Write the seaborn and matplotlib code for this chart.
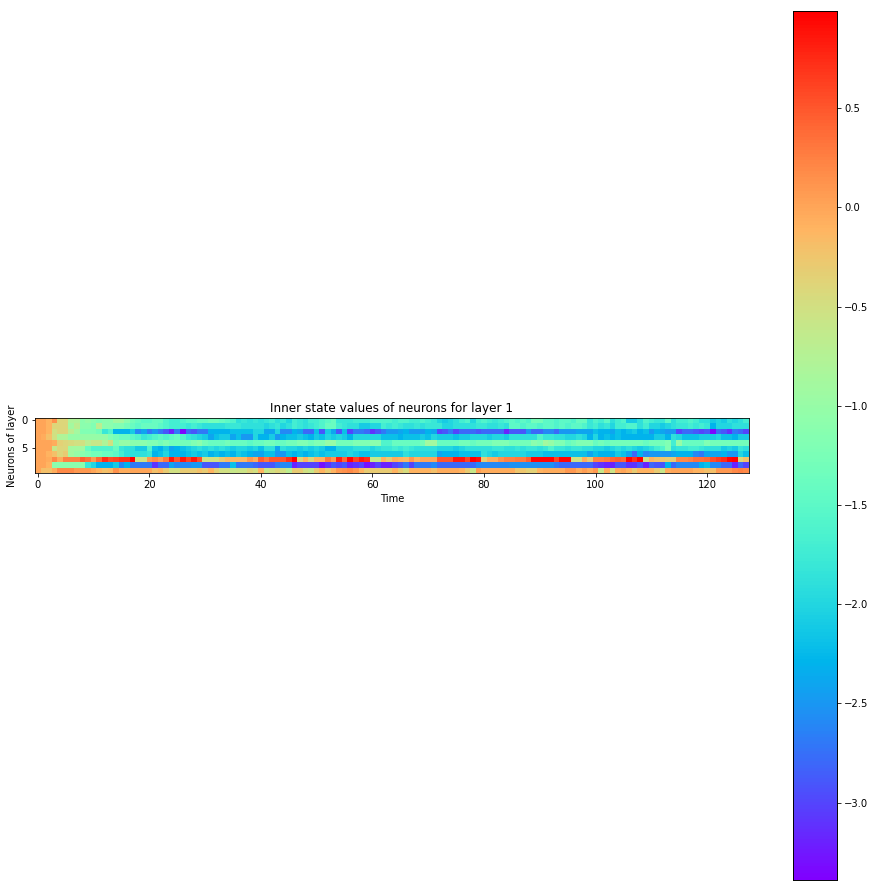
import numpy as np
import matplotlib
matplotlib.use('Agg')
import matplotlib.pyplot as plt
import seaborn as sns

# one list per neuron, 128 time steps
neuron_0 = [0,0,-.1,.15,-.4,-.4,-.8,-.8,-1.1,-1,
            -1.1,-1.2,-1.1,-1.1,-.9,-.9,-1.1,-1.3,-1.4,-1.5,
            -1.5,-1.4,-1.4,-1.6,-1.7,-1.7,-1.6,-1.5,-1.5,-1.4,
            -1.4,-1.3,-1.3,-1.4,-1.5,-1.6,-1.9,-1.8,-1.9,-1.8,
            -1.9,-1.8,-1.7,-1.9,-1.8,-2,-1.7,-1.8,-1.9,-1.7,
            -1.7,-1.6,-1.5,-1.4,-1.8,-1.8,-1.8,-1.7,-1.7,-1.7,
            -1.6,-1.6,-1.6,-1.6,-1.7,-1.6,-1.6,-1.7,-1.7,-1.6,
            -1.7,-1.8,-2,-2.1,-2,-1.9,-1.7,-1.6,-2,-1.7,
            -1.6,-1.7,-1.8,-1.7,-1.6,-1.5,-1.6,-1.5,-1.6,-1.3,
            -1.3,-1.5,-1.5,-1.6,-1.5,-1.5,-1.6,-1.4,-1.4,-1.8,
            -1.6,-1.7,-1.5,-1.9,-1.7,-1.6,-2.1,-2.1,-1.9,-1.6,
            -1.7,-1.8,-1.8,-1.5,-1.9,-1.7,-1.7,-1.6,-1.7,-1.9,
            -1.9,-2.1,-2,-2.1,-1.9,-2,-1.9,-1.7]
neuron_1 = [0,0,-.1,-.4,-.4,-.4,-.9,-.7,-1.1,-1.1,
            -1.2,-.7,-1.1,-1.1,-1.2,-1.2,-1.3,-1.4,-1.5,-1.4,
            -1.4,-1.4,-1.5,-1.6,-1.7,-1.7,-1.7,-1.8,-1.7,-1.8,
            -1.9,-1.9,-1.9,-1.9,-1.8,-1.8,-1.8,-1.9,-1.9,-1.9,
            -1.9,-2,-1.9,-1.8,-2,-1.9,-1.7,-1.8,-1.9,-1.8,
            -1.7,-1.6,-1.4,-1.4,-1.7,-1.8,-1.9,-1.9,-2.1,-2.1,
            -2,-2,-1.7,-1.8,-1.7,-1.8,-1.9,-1.9,-1.8,-1.9,
            -1.8,-1.8,-1.8,-2,-2,-1.9,-1.9,-1.9,-1.9,-1.8,
            -1.8,-1.9,-1.9,-1.8,-1.9,-1.5,-1.5,-1.6,-1.5,-1.5,
            -1.6,-1.5,-1.5,-1.6,-1.5,-1.6,-1.5,-1.5,-1.6,-1.8,
            -1.7,-1.9,-1.8,-2,-1.7,-1.7,-1.6,-1.6,-1.9,-1.7,
            -2,-2,-2.1,-2,-1.9,-1.8,-1.8,-1.7,-1.8,-1.7,
            -1.8,-2.3,-2,-2,-2,-1.9,-1.9,-1.9]
neuron_2 = [0,0,-.1,-.5,-.4,-.4,-.7,-.9,-1.2,-1.2,
            -1.2,-1.3,-1.8,-1.6,-2.3,-2.3,-2.3,-2.1,-2.6,-2.4,
            -2.7,-2.5,-2.7,-2.9,-3.2,-2.7,-3.35,-2.8,-2.9,-2.7,
            -2.7,-2.3,-2.3,-2.3,-2.3,-2.2,-2.2,-2.2,-2.2,-2,
            -2,-2.4,-2.4,-2,-2.6,-2.6,-2.3,-2.4,-2.8,-2.8,
            -2.2,-2.9,-2.1,-2.4,-2.9,-2.2,-3,-2.7,-2.7,-2.8,
            -3.1,-2.9,-2.7,-2.5,-2.5,-2.4,-2.3,-2.5,-2.5,-2.5,
            -2.3,-2.4,-3,-2.9,-2.7,-3,-2.8,-2.8,-2.8,-2.9,
            -2.8,-2.8,-2.8,-2.8,-3.2,-2.9,-2.9,-2.9,-2.5,-2.8,
            -2.8,-2.6,-2.6,-2.8,-2.5,-2.5,-2.5,-2.4,-2.4,-2.4,
            -2.2,-2.3,-2.3,-2.4,-2.2,-2.3,-2.2,-2.1,-2.3,-2.2,
            -2.5,-2.3,-2.4,-2.5,-2.5,-3,-2.8,-2.8,-2.9,-3,
            -2.9,-3.35,-2.8,-2.9,-3.1,-2.7,-2.8,-3]
neuron_3 = [0,-.05,-.2,-.5,-.8,-.8,-1,-1,-1,-1,
            -1,-1,-1,-1.2,-1.3,-1.4,-1.4,-1.5,-1.6,-1.8,
            -1.7,-1.6,-1.5,-1.6,-1.5,-1.4,-1.6,-1.8,-1.9,-2,
            -2.1,-2.4,-2.2,-2.1,-2.1,-2.4,-2.2,-2.5,-2.5,-2,
            -2.3,-2.3,-2.1,-2.5,-2.3,-2.2,-2.2,-2.1,-2.2,-2.3,
            -2.1,-2.2,-2,-2.1,-2,-2.1,-2.3,-2,-2,-2,
            -2,-2,-2.2,-2.2,-2.2,-2.3,-2.2,-2.2,-2.2,-2.1,
            -2.2,-2,-2.1,-2.1,-2.1,-2.2,-2.1,-2.1,-2,-2,
            -2,-2.1,-2,-2,-2.1,-1.9,-1.9,-1.9,-1.9,-1.9,
            -1.6,-1.8,-1.8,-1.9,-1.9,-2,-2,-1.9,-2,-2.3,
            -2,-2.3,-2.2,-2.3,-2.2,-2.3,-2.3,-2.3,-2.3,-2.3,
            -2.3,-2.1,-2.1,-2.3,-1.9,-2,-2.2,-2.2,-2.2,-2.1,
            -2.1,-2.1,-2,-2.2,-2.2,-2.3,-2.1,-2.1]
neuron_4 = [0,0,0,-.05,-.35,-.4,-.45,-.5,-.5,-.7,
            -.6,-.6,-.8,-.5,-1.2,-1,-1,-1.1,-1.1,-1.1,
            -1.2,-1.2,-1.3,-1.2,-1.3,-1.3,-1.3,-1.3,-1.2,-1.1,
            -1.3,-1.4,-1.4,-1.4,-1.3,-1.4,-1.4,-1.4,-1.5,-1.4,
            -1.4,-1.3,-1.3,-1.4,-1.4,-1.3,-1.3,-1.2,-1.2,-1.3,
            -1.2,-1.2,-1,-1,-1.3,-1.3,-1.3,-1.2,-1.2,-1.2,
            -1.1,-1.1,-1.6,-1.6,-1.4,-1.4,-1.4,-1.4,-1.4,-1.3,
            -.9,-.9,-1.4,-1.4,-1.4,-1.4,-1.3,-1.3,-1.4,-1.3,
            -1.3,-1.3,-1.2,-1.2,-1.2,-1.3,-1.3,-1.3,-1.3,-1.1,
            -1.2,-.9,-1,-1.2,-1.2,-1.4,-1.3,-1.2,-1.2,-1.2,
            -1.4,-1.3,-1.4,-1.3,-1.3,-1.3,-1.3,-1.3,-1.3,-1.4,
            -1.3,-1.3,-1.3,-1.2,-1.7,-1,-1.4,-1.4,-1.4,-1.4,
            -1.2,-1.3,-1.3,-1.3,-1.3,-1.3,-1.3,-1.3]
neuron_5 = [0,0,0,-.6,-.4,-.4,-.9,-.9,-.9,-1.4,
            -1.6,-1.6,-1.6,-1.6,-1.4,-1.8,-1.9,-1.9,-2.1,-2.1,
            -1.6,-2.2,-2.3,-2.1,-2.4,-2.3,-2.2,-2.1,-2,-1.9,
            -2,-1.9,-2,-1.9,-2,-2.1,-2,-2,-2.1,-2,
            -2.2,-1.9,-1.9,-2.4,-1.9,-2,-2,-2.1,-2,-2.1,
            -2,-2.1,-2.3,-2.3,-2,-2,-2,-1.9,-1.9,-1.9,
            -2,-1.9,-1.8,-1.8,-1.7,-1.8,-1.7,-1.8,-1.9,-1.9,
            -1.9,-1.9,-2,-2,-2,-2.1,-2,-1.9,-1.9,-1.9,
            -1.9,-1.9,-1.8,-1.8,-1.9,-1.9,-1.8,-1.9,-1.8,-1.8,
            -1.9,-1.8,-1.6,-1.8,-1.8,-1.9,-1.8,-1.8,-1.9,-1.9,
            -2,-2,-2.1,-2,-1.9,-2,-1.9,-2,-2.1,-2,
            -1.9,-1.7,-1.6,-1.2,-1.9,-1.8,-1.8,-1.7,-1.7,-1.8,
            -1.9,-1.9,-1.9,-2.1,-2,-2.1,-1.8,-1.9]
neuron_6 = [0,0,-.1,-.2,-.4,-.3,-.9,-1,-1.1,-1.2,
            -1.3,-1.3,-1.4,-1.4,-1.5,-1.7,-1.9,-1.9,-1.9,-1.9,
            -1.8,-2.3,-2.2,-2,-2.3,-2.3,-2.3,-2.2,-2.1,-2.2,
            -2.1,-2.3,-2.2,-2.3,-2.2,-2.3,-2.1,-2.2,-2.3,-2.4,
            -2.4,-2.2,-2.2,-2.5,-2.5,-2.2,-2.3,-2.2,-2.3,-2.2,
            -2.1,-2.2,-2.1,-2.1,-2.1,-2.1,-2,-2.1,-2.2,-2.2,
            -2.1,-2.1,-2.1,-2.1,-2.1,-2.1,-1.9,-2,-2,-2,
            -2,-2,-2.4,-2.3,-2.3,-2.3,-2.2,-2.2,-2.2,-2.2,
            -1.9,-2,-2.1,-2,-2,-2,-2,-2,-2.1,-2.1,
            -2.1,-2.2,-2.2,-2.2,-2.2,-2.2,-2.2,-2.2,-2.2,-2.4,
            -2.2,-2.3,-2.3,-2.3,-2.1,-2.2,-2.4,-2.8,-2.3,-2.6,
            -2.5,-2.5,-2.5,-2.5,-2.4,-2.3,-2.3,-2.3,-2.6,-2.7,
            -2.4,-2.4,-2.4,-2.3,-2.5,-2.5,-2,-2.2]
neuron_7 = [0,0,-.05,.2,-.05,.25,.25,.25,.45,.35,
            .1,.4,.75,.55,.6,.7,.7,.98,-.5,-.5,
            .1,.2,.05,.3,.85,.5,.85,.6,.85,.55,
            -.5,-.5,-.5,-.3,-.15,-.15,-.15,-.15,.1,-.05,
            .45,.3,.5,.5,.5,.7,.98,-.4,-.1,-.4,
            -.1,-.1,.3,.1,.8,.4,.95,.6,.85,.75,
            -.6,-.6,-.1,-.3,-.05,-.1,-.15,.1,-.1,0,
            0,0,.5,.5,.5,.85,.85,.6,.98,.9,
            -.3,-.05,-.05,.15,.25,.25,.3,.3,.45,.95,
            .95,.95,.95,.6,.95,.95,-.5,-.5,-.05,-.3,
            .25,.25,.3,.4,.45,.4,.95,.7,.98,-.5,
            -.1,-.2,-.25,-.3,-.3,.2,.2,.25,.35,.35,
            .4,.55,.65,.75,.95,.98,-.4,-.2]
neuron_8 = [0,0,-.1,-1.1,-1.1,-1.1,-1.1,-1.1,-1.1,-1.8,
            -2,-2.3,-2.3,-2.3,-2.1,-2.6,-2.3,-2.7,-2.7,-2.7,
            -2.7,-3.1,-2.8,-2.8,-2.4,-2.6,-2.6,-2.6,-2.5,-2.5,
            -2.9,-2.9,-2.9,-2.7,-2.7,-2.2,-2.7,-2.7,-2.7,-2.8,
            -2.9,-2.9,-2.9,-2.7,-2.6,-2.6,-3.2,-3,-3,-3,
            -3,-3.3,-3.1,-2.9,-3,-2.9,-3.2,-3.1,-3,-3.3,
            -3.2,-3,-3.2,-3.2,-3,-2.9,-2.7,-3,-2.7,-2.7,
            -2.7,-2.6,-2.8,-2.8,-2.8,-2.8,-2.8,-2.8,-2.8,-2.6,
            -2.6,-2.6,-2.6,-2.6,-2.6,-2.55,-2.55,-2.55,-2.55,-2.55,
            -2.55,-2.55,-2.55,-2.7,-2.8,-2.8,-2.8,-2.8,-2.8,-2.8,
            -3,-3.1,-3.2,-3.2,-2.9,-2.9,-3.1,-3.1,-2.9,-3.2,
            -2.8,-2.9,-2.9,-2.3,-2.8,-2.6,-2.6,-2.6,-2.6,-2.3,
            -2.2,-2.6,-2.6,-2.8,-2.8,-3.2,-2.8,-3]
neuron_9 = [0,-.2,-.2,-.05,.2,.2,.2,.1,.1,.1,
            0,-.1,-.2,-.15,.15,-.05,-.05,0,0,0,
            0,-.2,-.1,-.3,-.5,-.5,-.3,-.3,-.3,-.2,
            -.3,-.1,-.35,-.5,-.5,-.6,-.55,-.55,-.4,-.5,
            -.1,-.6,-.5,-.4,-.5,-.7,-.3,-.3,-.5,-.6,
            -.3,-.1,-.3,-.1,.1,.15,.2,.1,-.1,-.3,
            -.3,-.3,-.3,-.3,-.1,-.3,-.45,-.1,-.1,-.1,
            -.1,-.2,-.05,-.05,-.05,-.05,-.1,-.3,-.6,.05,
            -.05,-.05,-.05,-.05,-.05,-.05,-.25,-.25,-.35,-.35,
            -.1,-.05,-.05,-.05,-.05,.1,.1,-.05,.05,-.05,
            .1,-.6,-.05,-.55,-.05,0,-.1,-.3,-.1,-.1,
            -.1,-.3,-.6,-.05,0,0,0,0,-.1,-.1,
            -.2,-.2,.1,.1,.1,.2,.25,.2]

time_ticks = [0, 20, 40, 60, 80, 100, 120]
neuron_ticks = [0, 5]
cbar_ticks = [0.5, 0.0, -0.5, -1.0, -1.5, -2.0, -2.5, -3.0]

states = np.array([neuron_0, neuron_1, neuron_2, neuron_3, neuron_4,
                   neuron_5, neuron_6, neuron_7, neuron_8, neuron_9])

W, H = 875, 891
sns.set_style('white')
fig = plt.figure(figsize=(W/72, H/72), dpi=72)
ax = fig.add_axes([35/W, 1-473.4/H, 714/W, 55.8/H])
cax = fig.add_axes([793/W, 1-880/H, 44/W, 869/H])

sns.heatmap(states, ax=ax, cbar_ax=cax, cmap='rainbow', vmin=-3.39, vmax=0.99, square=True,
            xticklabels=False, yticklabels=False)

# heatmap cells start at 0, so the ticks go on the cell centres
ax.set_xticks([t+0.5 for t in time_ticks])
ax.set_xticklabels(time_ticks, rotation=0, fontsize=10, color='black')
ax.set_yticks([t+0.5 for t in neuron_ticks])
ax.set_yticklabels(neuron_ticks, rotation=0, fontsize=10, color='black')
ax.tick_params(left=True, bottom=True, length=3.5, width=0.8, color='black', pad=3.5)
ax.set_xlabel('Time', fontsize=10, color='black', labelpad=4)
ax.set_ylabel('Neurons of layer', fontsize=10, color='black', labelpad=4.5)
ax.set_title('Inner state values of neurons for layer 1', fontsize=12, color='black', pad=6)
for s in ax.spines.values():
    s.set_visible(True)
    s.set_color('black')
    s.set_linewidth(0.8)

cax.set_yticks(cbar_ticks)
cax.tick_params(right=True, length=3.5, width=0.8, color='black', labelsize=10, labelcolor='black', pad=3.5)
for s in cax.spines.values():
    s.set_visible(True)
    s.set_color('black')
    s.set_linewidth(0.8)

fig.savefig('out.png', dpi=72)
